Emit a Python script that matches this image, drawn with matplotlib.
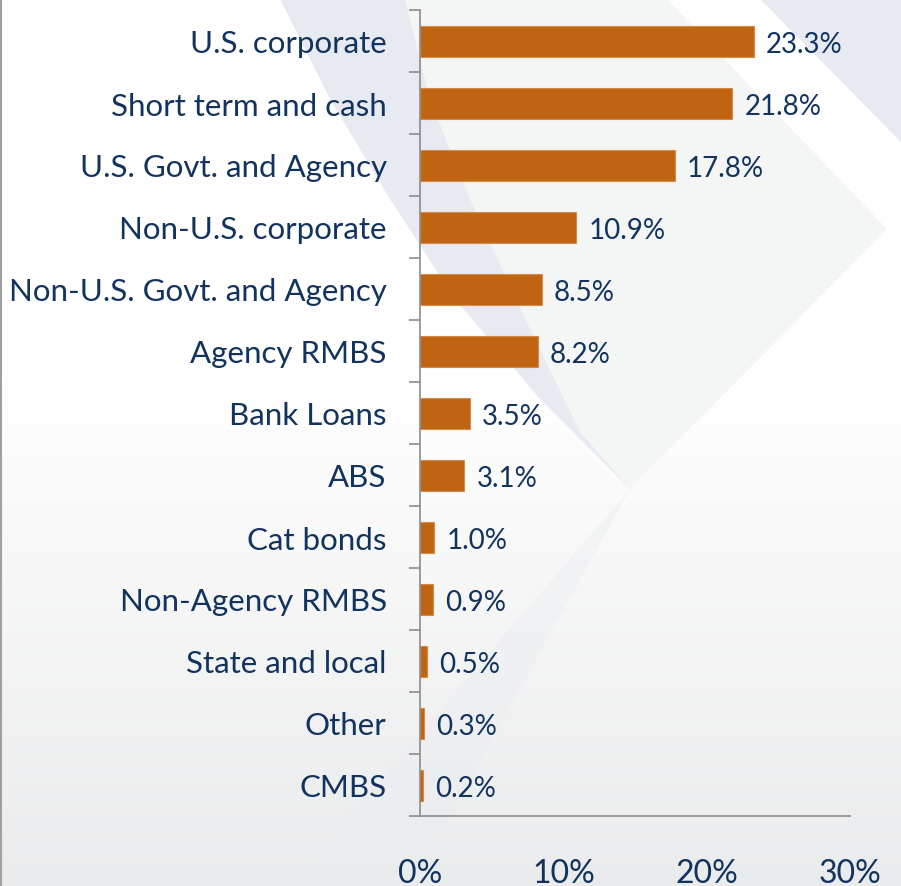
import matplotlib
matplotlib.use("Agg")
import matplotlib.pyplot as plt
import numpy as np
from matplotlib.patches import Polygon

categories = ["U.S. corporate", "Short term and cash", "U.S. Govt. and Agency",
              "Non-U.S. corporate", "Non-U.S. Govt. and Agency", "Agency RMBS",
              "Bank Loans", "ABS", "Cat bonds", "Non-Agency RMBS",
              "State and local", "Other", "CMBS"]
values = [23.3, 21.8, 17.8, 10.9, 8.5, 8.2, 3.5, 3.1, 1.0, 0.9, 0.5, 0.3, 0.2]
xticks = [0, 10, 20, 30]
xtick_labels = ["0%", "10%", "20%", "30%"]

W, H = 901, 887
plt.rcParams['font.family'] = ['Lato', 'DejaVu Sans']
navy = '#13335F'
bar_color = '#BF6411'

fig = plt.figure(figsize=(W / 100, H / 100), dpi=100)

# decorative background (pixel coordinates)
bg = fig.add_axes([0, 0, 1, 1], zorder=-5)
bg.set_xlim(0, W)
bg.set_ylim(H, 0)
bg.axis('off')
grad = np.ones((H, 1, 3))
t = np.clip((np.arange(H) - 380) / (H - 380), 0, 1)
top = np.array([1.0, 1.0, 1.0])
bot = np.array([0xEA, 0xEB, 0xEC]) / 255
grad[:, 0, :] = top[None, :] * (1 - t[:, None]) + bot[None, :] * t[:, None]
bg.imshow(grad, extent=[0, W, H, 0], aspect='auto', zorder=0)
bandA_left = [(280, 0), (330, 100), (390, 200), (455, 300), (540, 400), (630, 490)]
bandA_right = [(630, 490), (580, 433), (523, 315), (470, 200), (430, 100), (405, 0)]
light = [(405, 0), (667, 0), (887, 230), (630, 490), (580, 433), (523, 315), (470, 200), (430, 100)]
bg.add_patch(Polygon(light, closed=True, fc='#F4F6F6', ec='none', zorder=1))
bg.add_patch(Polygon(bandA_left + bandA_right, closed=True, fc='#E7EAF0', ec='none', zorder=2))
bg.add_patch(Polygon([(760, 0), (901, 0), (901, 143)], closed=True, fc='#E7EAF0', ec='none', zorder=2))
bg.add_patch(Polygon([(630, 490), (289, 887), (411, 887)], closed=True, fc='#E9ECF1', ec='none', alpha=0.4, zorder=2))
bg.plot([1, 1], [0, H], color='#A0A0A0', lw=1.5, zorder=3)

ax = fig.add_axes([420 / W, 1 - 817 / H, 430 / W, (817 - 11) / H])
ax.patch.set_alpha(0)
y = np.arange(len(categories))
ax.barh(y, values, height=0.5, color=bar_color, edgecolor='#D38C4E', linewidth=0.8)
for yi, v in zip(y, values):
    ax.annotate(f"{v:.1f}%", (v, yi), xytext=(12, -3), textcoords='offset pixels',
                va='center', ha='left', fontsize=20, color=navy)

ax.set_xlim(0, 30)
ax.set_ylim(len(categories) - 0.5, -0.5)
ax.set_yticks(y)
ax.set_yticklabels(categories, fontsize=22.5, color=navy)
ax.set_yticks(np.arange(-0.5, len(categories), 1), minor=True)
ax.tick_params(axis='y', which='major', length=0, pad=24)
ax.tick_params(axis='y', which='minor', length=8, width=1.2, color='#8C8C8C')
ax.set_xticks(xticks)
ax.set_xticklabels(xtick_labels, fontsize=23, color=navy)
ax.tick_params(axis='x', length=0, pad=30)
for s in ['top', 'right']:
    ax.spines[s].set_visible(False)
for s in ['left', 'bottom']:
    ax.spines[s].set_color('#8C8C8C')
    ax.spines[s].set_linewidth(1.2)

fig.savefig('out.png', dpi=100)
